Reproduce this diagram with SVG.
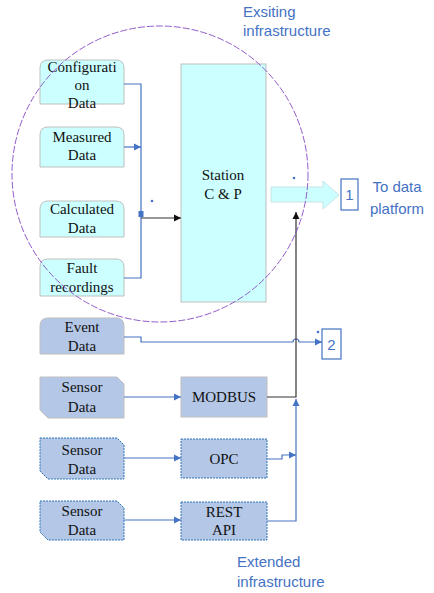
<svg xmlns="http://www.w3.org/2000/svg" width="434" height="593" viewBox="0 0 434 593">
<style>
.t{font-family:"Liberation Serif","Times New Roman",serif;font-size:15px;fill:#111;text-anchor:middle}
.b{font-family:"Liberation Sans",Arial,sans-serif;font-size:15px;fill:#4472C4}
.cy{fill:#CCFFFF;stroke:#BFBFBF;stroke-width:1}
.bl{fill:#B4C7E7;stroke:#BFBFBF;stroke-width:1}
.dt{fill:#B4C7E7;stroke:#2E75B6;stroke-width:1;stroke-dasharray:2 1}
.cn{fill:none;stroke:#4472C4;stroke-width:1.2}
.bk{fill:none;stroke:#333;stroke-width:1.2}
.bx{fill:#fff;stroke:#4472C4;stroke-width:1.2}
</style>
<defs>
<marker id="ab" markerWidth="8" markerHeight="8" refX="7" refY="4" orient="auto" markerUnits="userSpaceOnUse">
<path d="M0,0.5 L7,4 L0,7.5 Z" fill="#4472C4"/>
</marker>
<marker id="ak" markerWidth="8" markerHeight="8" refX="7" refY="4" orient="auto" markerUnits="userSpaceOnUse">
<path d="M0,0.5 L7,4 L0,7.5 Z" fill="#111"/>
</marker>
</defs>

<g id="node-config">
<path class="cy" d="M40,104 V68 Q40,60 48,60 H116 Q124,60 124,68 V104 Z"/>
<text class="t" x="82" y="72">Configurati</text>
<text class="t" x="82" y="90">on</text>
<text class="t" x="82" y="108">Data</text>
</g>
<g id="node-measured">
<path class="cy" d="M40,167 V135 Q40,127 48,127 H116 Q124,127 124,135 V167 Z"/>
<text class="t" x="82" y="142">Measured</text>
<text class="t" x="82" y="160">Data</text>
</g>
<g id="node-calculated">
<path class="cy" d="M40,237 V209 Q40,201 48,201 H116 Q124,201 124,209 V237 Z"/>
<text class="t" x="82" y="214">Calculated</text>
<text class="t" x="82" y="233">Data</text>
</g>
<g id="node-fault">
<path class="cy" d="M40,296 V267 Q40,259 48,259 H116 Q124,259 124,267 V296 Z"/>
<text class="t" x="82" y="273">Fault</text>
<text class="t" x="82" y="292">recordings</text>
</g>
<g id="node-station">
<rect class="cy" x="181" y="64" width="85" height="238"/>
<text class="t" x="223" y="180">Station</text>
<text class="t" x="223" y="199">C &amp; P</text>
</g>
<g id="node-event">
<path class="bl" d="M40,354 V326 Q40,318 48,318 H116 Q124,318 124,326 V354 Z"/>
<text class="t" x="82" y="332">Event</text>
<text class="t" x="82" y="351">Data</text>
</g>
<g id="node-sensor1">
<path class="bl" d="M40,377 H117 L124,384 V418 H48 L40,410 Z"/>
<text class="t" x="82" y="392">Sensor</text>
<text class="t" x="82" y="412">Data</text>
</g>
<g id="node-sensor2">
<path class="dt" d="M40,438 H117 L124,445 V479 H48 L40,471 Z"/>
<text class="t" x="82" y="455">Sensor</text>
<text class="t" x="82" y="474">Data</text>
</g>
<g id="node-sensor3">
<path class="dt" d="M40,501 H117 L124,508 V540 H48 L40,532 Z"/>
<text class="t" x="82" y="516">Sensor</text>
<text class="t" x="82" y="535">Data</text>
</g>
<g id="node-modbus">
<rect class="bl" x="181" y="377" width="86" height="40"/>
<text class="t" x="224" y="402">MODBUS</text>
</g>
<g id="node-opc">
<rect class="dt" x="181" y="439" width="86" height="39"/>
<text class="t" x="224" y="464">OPC</text>
</g>
<g id="node-rest">
<rect class="dt" x="181" y="502" width="86" height="38"/>
<text class="t" x="224" y="517">REST</text>
<text class="t" x="224" y="535">API</text>
</g>
<g id="node-out1">
<rect class="bx" x="341" y="179" width="17" height="31"/>
<text class="b" x="349.5" y="200" text-anchor="middle" font-size="13">1</text>
</g>
<g id="node-out2">
<rect class="bx" x="322" y="329" width="19" height="30"/>
<text class="b" x="331.5" y="350" text-anchor="middle" font-size="13">2</text>
</g>
<g id="block-arrow">
<polygon points="271,187 323,187 323,181 339,195 323,209 323,202 271,202" fill="#CCFFFF" stroke="#C8E4E4" stroke-width="1"/>
</g>

<g id="connectors">
<path class="cn" d="M124,84 H141 V278 H124"/>
<path class="cn" d="M124,147 H141" marker-end="url(#ab)"/>
<rect x="138.5" y="211" width="5" height="6" fill="#4472C4"/>
<path class="bk" d="M141,218 H181" marker-end="url(#ak)"/>
<circle cx="152" cy="201" r="1.3" fill="#4472C4"/>
<path class="cn" d="M124,337 H141 V342 H293 A3,3 0 0 1 299,342 H322" marker-end="url(#ab)"/>
<circle cx="318" cy="332" r="1.3" fill="#4472C4"/>
<circle cx="294" cy="178" r="1.3" fill="#4472C4"/>
<path class="cn" d="M124,397 H181" marker-end="url(#ab)"/>
<path class="cn" d="M124,458 H181" marker-end="url(#ab)"/>
<path class="cn" d="M124,520 H181" marker-end="url(#ab)"/>
<path class="bk" d="M267,397 H296 V212" marker-end="url(#ak)"/>
<path class="cn" d="M267,459 H282 V455 H296" marker-end="url(#ab)"/>
<path class="cn" d="M267,521 H296 V399" marker-end="url(#ab)"/>
</g>

<g id="labels">
<text class="b" x="243" y="17">Exsiting</text>
<text class="b" x="243" y="36">infrastructure</text>
<text class="b" x="397" y="192" text-anchor="middle" font-size="16">To data</text>
<text class="b" x="397" y="214" text-anchor="middle" font-size="16">platform</text>
<text class="b" x="237" y="567">Extended</text>
<text class="b" x="237" y="587">infrastructure</text>
</g>

<g id="boundary">
<circle cx="160" cy="174" r="148" fill="none" stroke="#7F3FBF" stroke-width="1" stroke-dasharray="7 2" opacity="0.85"/>
</g>
</svg>
